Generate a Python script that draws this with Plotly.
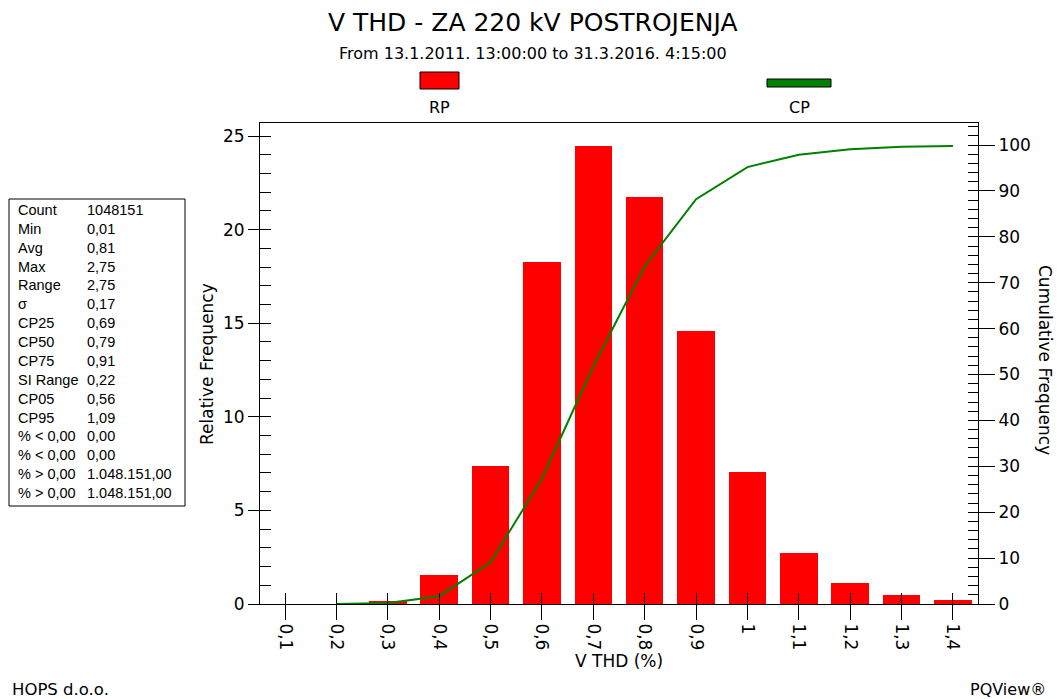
import plotly.graph_objects as go

# ---------------- data ----------------
x_vals = [0.1, 0.2, 0.3, 0.4, 0.5, 0.6, 0.7, 0.8, 0.9, 1.0, 1.1, 1.2, 1.3, 1.4]
x_labels = ["0,1", "0,2", "0,3", "0,4", "0,5", "0,6", "0,7", "0,8", "0,9", "1", "1,1", "1,2", "1,3", "1,4"]
rel_freq = [0.0, 0.0, 0.16, 1.55, 7.37, 18.27, 24.47, 21.74, 14.58, 7.05, 2.72, 1.14, 0.50, 0.21]

cum_x = [0.2, 0.3, 0.4, 0.5, 0.6, 0.7, 0.8, 0.9, 1.0, 1.1, 1.2, 1.3, 1.4]
cum_freq = [0.0, 0.2, 1.7, 9.1, 27.3, 51.8, 73.6, 88.2, 95.2, 97.9, 99.1, 99.6, 99.8]

stat_names = ["Count", "Min", "Avg", "Max", "Range", "σ", "CP25", "CP50", "CP75",
              "SI Range", "CP05", "CP95", "% < 0,00", "% < 0,00", "% > 0,00", "% > 0,00"]
stat_values = ["1048151", "0,01", "0,81", "2,75", "2,75", "0,17", "0,69", "0,79", "0,91",
               "0,22", "0,56", "1,09", "0,00", "0,00", "1.048.151,00", "1.048.151,00"]

y_left_ticks = [0, 5, 10, 15, 20, 25]
y_right_ticks = [0, 10, 20, 30, 40, 50, 60, 70, 80, 90, 100]

# ---------------- layout geometry ----------------
W, H = 1057, 699
L, R, T, B = 260, 79, 123, 95
PW, PH = W - L - R, H - T - B

def px(xp):
    return (xp - L) / PW

def py(yp):
    return (H - B - yp) / PH

FONT = "'DejaVu Sans', Verdana, sans-serif"
SFONT = "Arial, 'Liberation Sans', sans-serif"

fig = go.Figure()
fig.add_trace(go.Bar(x=x_vals, y=rel_freq, width=0.073, marker=dict(color="#FF0000", line=dict(width=0)),
                     name="RP", showlegend=False))
fig.add_trace(go.Scatter(x=cum_x, y=cum_freq, mode="lines", line=dict(color="#008000", width=2),
                         yaxis="y2", name="CP", showlegend=False))

annotations = []
shapes = []

def txt(text, x, y, size, xanchor="center", angle=0, family=FONT):
    annotations.append(dict(text=text, xref="paper", yref="paper", x=px(x), y=py(y), xanchor=xanchor,
                            yanchor="middle", textangle=angle, showarrow=False,
                            font=dict(family=family, size=size, color="black")))

# titles
txt("V THD - ZA 220 kV POSTROJENJA", 533, 22, 25)
txt("From 13.1.2011. 13:00:00 to 31.3.2016. 4:15:00", 533, 53, 16)

# custom legend
shapes.append(dict(type="rect", xref="paper", yref="paper", x0=px(420), x1=px(459), y0=py(89), y1=py(72),
                   fillcolor="#FF0000", line=dict(color="black", width=1)))
shapes.append(dict(type="rect", xref="paper", yref="paper", x0=px(767), x1=px(831), y0=py(87), y1=py(79),
                   fillcolor="#008000", line=dict(color="black", width=1)))
txt("RP", 439, 107, 16)
txt("CP", 799, 107, 16)

# axis titles
txt("Relative Frequency", 207, 364, 17, angle=-90)
txt("Cumulative Frequency", 1045, 360, 17, angle=90)
txt("V THD (%)", 619, 661, 17)

# footer
txt("HOPS d.o.o.", 10, 689, 16.5, xanchor="left")
txt("PQView®", 1048, 689, 16, xanchor="right")

# stats box
shapes.append(dict(type="rect", xref="paper", yref="paper", x0=px(9), x1=px(185), y0=py(506), y1=py(199),
                   fillcolor="white", line=dict(color="black", width=1)))
for i, (nm, vv) in enumerate(zip(stat_names, stat_values)):
    yy = 210 + i * 18.87
    txt(nm, 16, yy, 14.5, xanchor="left", family=SFONT)
    txt(vv, 85, yy, 14.5, xanchor="left", family=SFONT)

fig.update_layout(
    width=W, height=H,
    margin=dict(l=L, r=R, t=T, b=B, pad=0),
    paper_bgcolor="white", plot_bgcolor="white",
    separators=",.",
    showlegend=False,
    bargap=0,
    xaxis=dict(range=[0.0513, 1.4487], tickmode="array", tickvals=x_vals, ticktext=x_labels,
               tickangle=90, ticks="outside", ticklen=15, tickwidth=1, tickcolor="black",
               minor=dict(tickmode="array", tickvals=x_vals, ticks="inside", ticklen=11, tickwidth=1,
                          tickcolor="black"),
               showline=True, linecolor="black", linewidth=1, mirror=True,
               showgrid=False, zeroline=False,
               tickfont=dict(family=FONT, size=17, color="black")),
    yaxis=dict(range=[0, 25.7], tickmode="array", tickvals=y_left_ticks, ticks="outside", ticklen=11,
               tickwidth=1, tickcolor="black",
               minor=dict(dtick=1, ticks="inside", ticklen=11, tickwidth=1, tickcolor="black"),
               showline=True, linecolor="black", linewidth=1, showgrid=False, zeroline=False,
               tickfont=dict(family=FONT, size=17, color="black")),
    yaxis2=dict(range=[0, 104.8], overlaying="y", side="right", anchor="x", tickmode="array",
                tickvals=y_right_ticks, ticks="outside", ticklen=16, tickwidth=1, tickcolor="black",
                minor=dict(dtick=2, ticks="inside", ticklen=10, tickwidth=1, tickcolor="black"),
                showline=True, linecolor="black", linewidth=1, showgrid=False, zeroline=False,
                tickfont=dict(family=FONT, size=17, color="black")),
    annotations=annotations,
    shapes=shapes,
)

fig.write_html("out.html", config={"displayModeBar": False},
               post_script="document.body.style.margin='0';document.body.style.overflow='hidden';")
